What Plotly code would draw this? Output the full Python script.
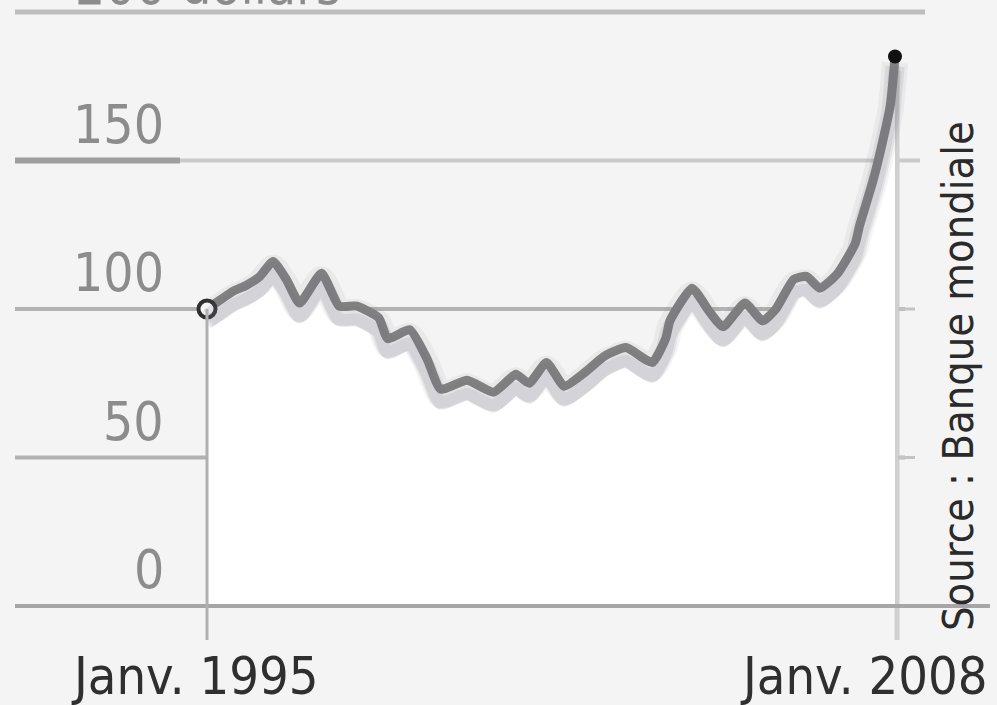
import pandas as pd
import plotly.graph_objects as go

# Monthly index readings, base 100 in January 1995
dates = [
    "1995-01-01", "1995-04-01", "1995-07-01", "1995-10-01",
    "1996-01-01", "1996-04-01", "1996-07-01", "1996-10-01",
    "1997-03-01", "1997-07-01", "1997-11-01", "1998-04-01",
    "1998-06-01", "1998-11-01", "1999-03-01", "1999-06-01",
    "1999-12-01", "2000-06-01", "2000-11-01", "2001-02-01",
    "2001-06-01", "2001-10-01", "2002-03-01", "2002-07-01",
    "2002-12-01", "2003-06-01", "2003-09-01", "2003-10-01",
    "2004-03-01", "2004-07-01", "2004-10-01", "2005-03-01",
    "2005-07-01", "2005-10-01", "2006-02-01", "2006-05-01",
    "2006-08-01", "2006-12-01", "2007-04-01", "2007-05-01",
    "2007-08-01", "2007-10-01", "2007-12-01", "2008-01-01",
]
values = [
    100, 103, 106, 108,
    111, 116, 110, 102,
    112, 101, 101, 97,
    90, 93, 83, 73,
    76, 72, 78, 75,
    82, 74, 79, 84,
    87, 82, 90, 96,
    107, 99, 94, 102,
    96, 100, 110, 111,
    107, 112, 122, 128,
    143, 155, 169, 185,
]

y_ticks = [0, 50, 100, 150]
y_tick_labels = ["0", "50", "100", "150"]
top_label = "200 dollars"
top_value = 200
x_labels = ["Janv. 1995", "Janv. 2008"]
source_text = "Source : Banque mondiale"

W, H = 997, 705
BG = "#f4f4f4"
FONT = "DejaVu Sans Condensed, DejaVu Sans, sans-serif"

# value scale: 0 sits at 606 px, 200 at 12 px from the top
Y_LO, Y_HI = -33.33, 204.04
UNIT_PER_PX = (Y_HI - Y_LO) / H

t0, t1 = pd.Timestamp(dates[0]), pd.Timestamp(dates[-1])
span = t1 - t0
x_lo = t0 - span * (207 / 688)
x_hi = t1 + span * ((W - 895) / 688)


def px(p):
    return p / W


fig = go.Figure()

# white area under the curve
fig.add_trace(go.Scatter(
    x=dates, y=values, mode="lines", fill="tozeroy",
    fillcolor="#ffffff", line=dict(width=0, color="#ffffff"),
    hoverinfo="skip", showlegend=False,
))

# soft drop shadow under the line, drawn on shifted overlay axes
shadows = [(6, 26, 0.08), (10, 19, 0.12), (14, 13, 0.13)]
for i, (shift, width, alpha) in enumerate(shadows):
    axis = f"y{i + 2}"
    fig.add_trace(go.Scatter(
        x=dates, y=values, mode="lines", yaxis=axis,
        line=dict(width=width, color=f"rgba(110,110,125,{alpha})", shape="spline", smoothing=0.5),
        hoverinfo="skip", showlegend=False,
    ))
    fig.update_layout(**{
        f"yaxis{i + 2}": dict(
            overlaying="y", visible=False, fixedrange=True,
            range=[Y_LO + shift * UNIT_PER_PX, Y_HI + shift * UNIT_PER_PX],
        )
    })

# main line
fig.add_trace(go.Scatter(
    x=dates, y=values, mode="lines",
    line=dict(width=9, color="#838383", shape="spline", smoothing=0.5),
    showlegend=False,
))

# start and end markers
fig.add_trace(go.Scatter(
    x=[dates[0]], y=[values[0]], mode="markers",
    marker=dict(size=17, color="#ffffff", line=dict(width=4, color="#2e2e2e")),
    showlegend=False,
))
fig.add_trace(go.Scatter(
    x=[dates[-1]], y=[values[-1]], mode="markers",
    marker=dict(size=14, color="#111111"),
    showlegend=False,
))

shapes = []
# horizontal rules
shapes.append(dict(type="line", xref="paper", yref="y", x0=px(15), x1=px(925),
                   y0=top_value, y1=top_value, line=dict(color="#bdbdbd", width=5), layer="below"))
shapes.append(dict(type="line", xref="paper", yref="y", x0=px(180), x1=px(920),
                   y0=y_ticks[3], y1=y_ticks[3], line=dict(color="#cacaca", width=4), layer="below"))
shapes.append(dict(type="line", xref="paper", yref="y", x0=px(15), x1=px(180),
                   y0=y_ticks[3], y1=y_ticks[3], line=dict(color="#9e9e9e", width=6), layer="below"))
shapes.append(dict(type="line", xref="paper", yref="y", x0=px(15), x1=px(905),
                   y0=y_ticks[2], y1=y_ticks[2], line=dict(color="#b2b2b2", width=4), layer="below"))
shapes.append(dict(type="line", xref="paper", yref="y", x0=px(15), x1=px(905),
                   y0=y_ticks[1], y1=y_ticks[1], line=dict(color="#b2b2b2", width=4), layer="below"))
# small ticks on the right rule
for v in (y_ticks[1], y_ticks[2]):
    shapes.append(dict(type="line", xref="paper", yref="y", x0=px(898), x1=px(915),
                       y0=v, y1=v, line=dict(color="#c4c4c4", width=3), layer="above"))
# baseline
shapes.append(dict(type="line", xref="paper", yref="y", x0=px(15), x1=px(990),
                   y0=y_ticks[0], y1=y_ticks[0], line=dict(color="#a6a6a6", width=4), layer="above"))
# vertical rules at both ends
bottom_v = -(640 - 606) * UNIT_PER_PX
shapes.append(dict(type="line", xref="x", yref="y", x0=dates[0], x1=dates[0],
                   y0=values[0], y1=bottom_v, line=dict(color="#b0b0b0", width=3), layer="above"))
shapes.append(dict(type="line", xref="x", yref="y", x0=t1 + pd.Timedelta(days=14), x1=t1 + pd.Timedelta(days=14),
                   y0=values[-1] - 3, y1=bottom_v, line=dict(color="#d0d0d0", width=5), layer="below"))

annotations = []
for v, lab in zip(y_ticks, y_tick_labels):
    annotations.append(dict(
        x=px(166), xref="paper", y=v, yref="y", text=lab, showarrow=False,
        xanchor="right", yanchor="bottom", yshift=4,
        font=dict(family=FONT, size=53, color="#8c8c8c"),
    ))
# heading above the top rule, running off the top edge
annotations.append(dict(
    x=px(73), xref="paper", y=top_value, yref="y", text=top_label, showarrow=False,
    xanchor="left", yanchor="bottom", yshift=-6,
    font=dict(family=FONT, size=53, color="#8c8c8c"),
))
annotations.append(dict(
    x=px(195), xref="paper", y=1 - 676 / H, yref="paper", text=x_labels[0], showarrow=False,
    xanchor="center", yanchor="middle",
    font=dict(family=FONT, size=52, color="#2f2f2f"),
))
annotations.append(dict(
    x=px(990), xref="paper", y=1 - 676 / H, yref="paper", text=x_labels[1], showarrow=False,
    xanchor="right", yanchor="middle",
    font=dict(family=FONT, size=52, color="#2f2f2f"),
))
annotations.append(dict(
    x=px(958), xref="paper", y=1 - 376 / H, yref="paper", text=source_text, showarrow=False,
    textangle=-90, xanchor="center", yanchor="middle",
    font=dict(family=FONT, size=43, color="#2a2a2a"),
))

fig.update_layout(
    width=W, height=H,
    margin=dict(l=0, r=0, t=0, b=0),
    paper_bgcolor=BG, plot_bgcolor=BG,
    xaxis=dict(range=[x_lo, x_hi], visible=False, fixedrange=True),
    yaxis=dict(range=[Y_LO, Y_HI], visible=False, fixedrange=True),
    shapes=shapes, annotations=annotations,
    showlegend=False,
)

fig.write_html("out.html", config={"displayModeBar": False})
